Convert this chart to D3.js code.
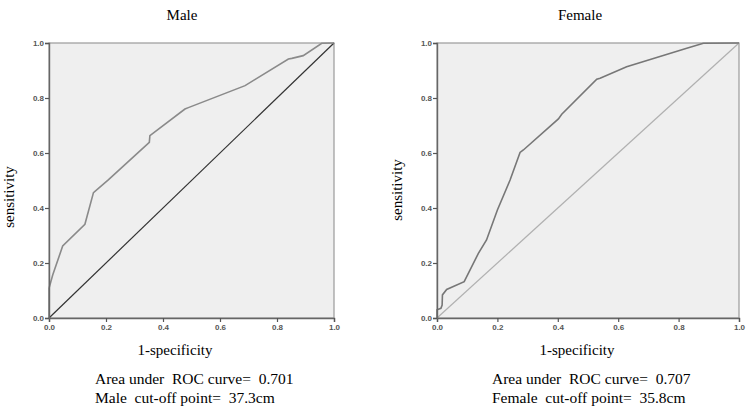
<!DOCTYPE html>
<html><head><meta charset="utf-8">
<script src="https://cdn.jsdelivr.net/npm/d3@7"></script>
<style>body{margin:0;background:#fff}svg{display:block}text{white-space:pre}</style>
</head><body><svg id="c" width="750" height="410"></svg>
<script>
const ticks = [0.0, 0.2, 0.4, 0.6, 0.8, 1.0];
const maleFpr = [0, 0, 0.013, 0.048, 0.126, 0.156, 0.208, 0.352, 0.354, 0.477, 0.489, 0.688, 0.84, 0.852, 0.892, 0.957, 1.0];
const maleTpr = [0, 0.108, 0.156, 0.262, 0.341, 0.456, 0.502, 0.639, 0.663, 0.76, 0.765, 0.845, 0.942, 0.944, 0.954, 0.999, 1.0];
const femaleFpr = [0, 0, 0.013, 0.017, 0.018, 0.032, 0.09, 0.137, 0.164, 0.2, 0.242, 0.275, 0.286, 0.402, 0.413, 0.529, 0.54, 0.628, 0.827, 0.882, 1.0];
const femaleTpr = [0, 0.03, 0.035, 0.047, 0.084, 0.104, 0.132, 0.235, 0.284, 0.393, 0.502, 0.602, 0.611, 0.724, 0.741, 0.868, 0.872, 0.914, 0.981, 0.999, 1.0];
const titles = ["Male", "Female"];
const aucText = ["Area under  ROC curve=  0.701", "Area under  ROC curve=  0.707"];
const cutText = ["Male  cut-off point=  37.3cm", "Female  cut-off point=  35.8cm"];

const svg = d3.select("#c");
const panels = [
  {x0: 49, x1: 334, fpr: maleFpr, tpr: maleTpr, diag: "#333", curve: "#8a8a8a", titleX: 182, ylabX: 9, ylabY: 197, xlabX: 175, annX: 95},
  {x0: 437, x1: 739, fpr: femaleFpr, tpr: femaleTpr, diag: "#b0b0b0", curve: "#777", titleX: 580, ylabX: 397, ylabY: 190, xlabX: 577, annX: 492}
];
const yTop = 43, yBot = 318;
const serif = "Liberation Serif, Times New Roman, serif";

panels.forEach((p, i) => {
  const x = d3.scaleLinear().domain([0, 1]).range([p.x0, p.x1]);
  const y = d3.scaleLinear().domain([0, 1]).range([yBot, yTop]);
  const g = svg.append("g");
  g.append("rect").attr("x", p.x0).attr("y", yTop).attr("width", p.x1 - p.x0).attr("height", yBot - yTop)
    .attr("fill", "#efefef").attr("stroke", "#9a9a9a").attr("stroke-width", 1.2);
  g.append("line").attr("x1", x(0)).attr("y1", y(0)).attr("x2", x(1)).attr("y2", y(1))
    .attr("stroke", p.diag).attr("stroke-width", 1.2);
  const pts = p.fpr.map((v, k) => [v, p.tpr[k]]);
  g.append("path").datum(pts).attr("fill", "none").attr("stroke", p.curve).attr("stroke-width", 1.6)
    .attr("d", d3.line().x(d => x(d[0])).y(d => y(d[1])));
  const ax = g.append("g").attr("transform", `translate(0,${yBot})`)
    .call(d3.axisBottom(x).tickValues(ticks).tickFormat(d3.format(".1f")).tickSize(4).tickPadding(2));
  const ay = g.append("g").attr("transform", `translate(${p.x0},0)`)
    .call(d3.axisLeft(y).tickValues(ticks).tickFormat(d3.format(".1f")).tickSize(4).tickPadding(1));
  [ax, ay].forEach(a => {
    a.select(".domain").attr("stroke", "#666").attr("stroke-width", 1.4);
    a.selectAll(".tick line").attr("stroke", "#555").attr("stroke-width", 1.2);
    a.selectAll(".tick text").attr("fill", "#555").attr("font-family", "Liberation Sans, Arial, sans-serif")
      .attr("font-size", 8).attr("font-weight", "bold");
  });
  svg.append("text").attr("x", p.titleX).attr("y", 20).attr("text-anchor", "middle")
    .attr("font-family", serif).attr("font-size", 15).text(titles[i]);
  svg.append("text").attr("transform", `translate(${p.ylabX + 5},${p.ylabY}) rotate(-90)`)
    .attr("text-anchor", "middle").attr("font-family", serif).attr("font-size", 15).text("sensitivity");
  svg.append("text").attr("x", p.xlabX).attr("y", 355).attr("text-anchor", "middle")
    .attr("font-family", serif).attr("font-size", 15).text("1-specificity");
  svg.append("text").attr("x", p.annX).attr("y", 384)
    .attr("font-family", serif).attr("font-size", 15.5).text(aucText[i]);
  svg.append("text").attr("x", p.annX).attr("y", 403)
    .attr("font-family", serif).attr("font-size", 15.5).text(cutText[i]);
});
</script></body></html>
